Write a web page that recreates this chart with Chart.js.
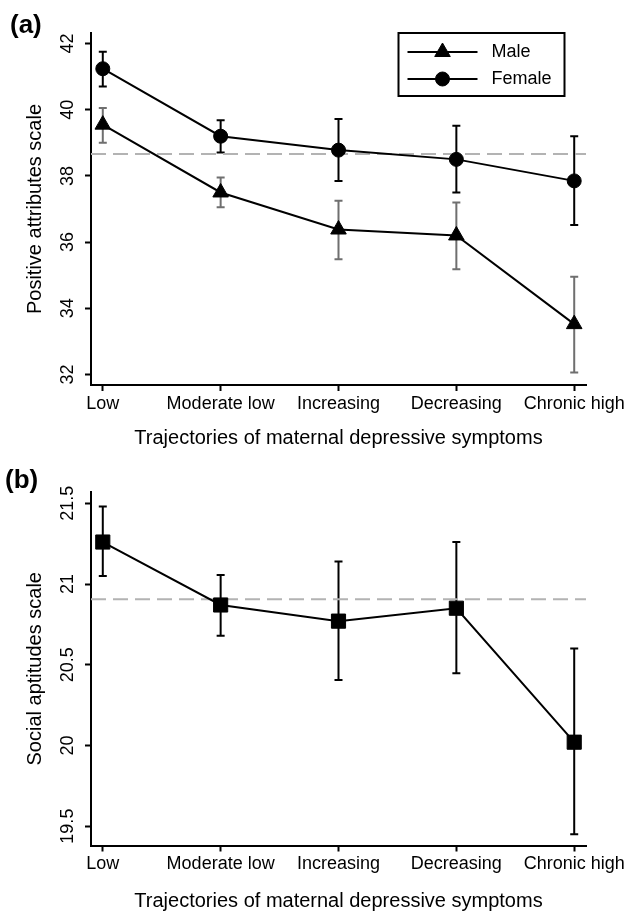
<!DOCTYPE html>
<html>
<head>
<meta charset="utf-8">
<script src="https://cdn.jsdelivr.net/npm/chart.js@4/dist/chart.umd.min.js"></script>
<style>
    body { margin: 0; background: #fff; }
    canvas { display: block; }
</style>
</head>
<body>
<canvas id="chartA" width="629" height="456"></canvas>
<canvas id="chartB" width="629" height="456"></canvas>
<script>
// Categories on the x axis (both panels)
const categories = ['Low', 'Moderate low', 'Increasing', 'Decreasing', 'Chronic high'];

// Panel (a): positive attributes scale
const maleMean = [39.55, 37.5, 36.38, 36.2, 33.52];
const maleLower = [39.0, 37.05, 35.48, 35.18, 32.06];
const maleUpper = [40.05, 37.95, 37.25, 37.2, 34.95];
const femaleMean = [41.24, 39.2, 38.78, 38.5, 37.85];
const femaleLower = [40.7, 38.71, 37.85, 37.5, 36.52];
const femaleUpper = [41.75, 39.68, 39.72, 39.52, 39.2];
const positiveRef = 38.66;
const positiveTicks = [32, 34, 36, 38, 40, 42];

// Panel (b): social aptitudes scale
const socialMean = [21.26, 20.87, 20.77, 20.85, 20.02];
const socialLower = [21.05, 20.68, 20.405, 20.447, 19.45];
const socialUpper = [21.48, 21.056, 21.14, 21.26, 20.6];
const socialRef = 20.905;
const socialTicks = [19.5, 20, 20.5, 21, 21.5];

const FONT = '"Liberation Sans", Arial, Helvetica, sans-serif';
Chart.defaults.font.family = FONT;
Chart.defaults.color = '#000';

const toPoints = arr => arr.map((v, i) => ({ x: i, y: v }));

function drawMarker(ctx, style, x, y, r) {
    ctx.beginPath();
    if (style === 'triangle') {
        let rad = 0;
        ctx.moveTo(x + Math.sin(rad) * r, y - Math.cos(rad) * r);
        rad += 2 * Math.PI / 3;
        ctx.lineTo(x + Math.sin(rad) * r, y - Math.cos(rad) * r);
        rad += 2 * Math.PI / 3;
        ctx.lineTo(x + Math.sin(rad) * r, y - Math.cos(rad) * r);
        ctx.closePath();
    } else if (style === 'rect') {
        const s = Math.SQRT1_2 * r;
        ctx.rect(x - s, y - s, 2 * s, 2 * s);
    } else {
        ctx.arc(x, y, r, 0, Math.PI * 2);
    }
    ctx.fill();
    ctx.stroke();
}

// Error bars drawn under the lines and markers
const errorBars = {
    id: 'errorBars',
    beforeDatasetsDraw(chart, args, opts) {
        const { ctx, scales: { x, y } } = chart;
        (opts.bars || []).forEach(bar => {
            ctx.save();
            ctx.strokeStyle = bar.color;
            ctx.lineWidth = 2;
            bar.lower.forEach((lo, i) => {
                const px = x.getPixelForValue(i);
                const yl = y.getPixelForValue(lo);
                const yu = y.getPixelForValue(bar.upper[i]);
                ctx.beginPath();
                ctx.moveTo(px, yl); ctx.lineTo(px, yu);
                ctx.moveTo(px - 4, yl); ctx.lineTo(px + 4, yl);
                ctx.moveTo(px - 4, yu); ctx.lineTo(px + 4, yu);
                ctx.stroke();
            });
            ctx.restore();
        });
    }
};

// Boxed legend with line + marker samples
const lineLegend = {
    id: 'lineLegend',
    afterDraw(chart, args, opts) {
        if (!opts.box) return;
        const ctx = chart.ctx;
        const [bx, by, bw, bh] = opts.box;
        ctx.save();
        ctx.lineWidth = 2;
        ctx.strokeStyle = '#000';
        ctx.fillStyle = '#000';
        ctx.strokeRect(bx, by, bw, bh);
        const items = chart.data.datasets.filter(d => d.label);
        items.forEach((d, i) => {
            const cy = by + 19 + i * 27;
            ctx.lineWidth = 2;
            ctx.beginPath();
            ctx.moveTo(bx + 9, cy);
            ctx.lineTo(bx + 79, cy);
            ctx.stroke();
            ctx.lineWidth = 1;
            drawMarker(ctx, d.pointStyle, bx + 44, cy, d.pointRadius);
            ctx.font = '18px ' + FONT;
            ctx.textBaseline = 'middle';
            ctx.fillText(d.label, bx + 93, cy);
        });
        ctx.restore();
    }
};

// "(a)" / "(b)" panel tags
const panelTag = {
    id: 'panelTag',
    afterDraw(chart, args, opts) {
        if (!opts.text) return;
        const ctx = chart.ctx;
        ctx.save();
        ctx.font = 'bold 26px ' + FONT;
        ctx.fillStyle = '#000';
        ctx.textBaseline = 'alphabetic';
        ctx.fillText(opts.text, opts.x, opts.y);
        ctx.restore();
    }
};

function refDataset(value, order) {
    return {
        data: [{ x: -0.1, y: value }, { x: 4.1, y: value }],
        borderColor: '#b3b3b3',
        borderWidth: 2,
        borderDash: [15, 7],
        pointRadius: 0,
        order
    };
}

function seriesDataset(label, values, style, radius) {
    return {
        label,
        data: toPoints(values),
        borderColor: '#000',
        borderWidth: 2,
        pointStyle: style,
        pointRadius: radius,
        pointHoverRadius: radius,
        pointBackgroundColor: '#000',
        pointBorderColor: '#000',
        pointBorderWidth: 1,
        tension: 0,
        order: 1
    };
}

function makeChart(id, cfg) {
    return new Chart(document.getElementById(id), {
        type: 'line',
        data: { datasets: cfg.datasets },
        options: {
            responsive: false,
            animation: false,
            events: [],
            layout: { padding: { top: cfg.top, right: 43, bottom: 0, left: 0 } },
            plugins: {
                legend: { display: false },
                tooltip: { enabled: false },
                errorBars: { bars: cfg.bars },
                lineLegend: { box: cfg.legendBox },
                panelTag: cfg.tag
            },
            scales: {
                x: {
                    type: 'linear',
                    min: -0.1,
                    max: 4.1,
                    afterBuildTicks: s => { s.ticks = categories.map((c, i) => ({ value: i })); },
                    afterFit: s => { s.height = cfg.xHeight; },
                    grid: { drawOnChartArea: false, tickLength: 6, tickWidth: 2, tickColor: '#000' },
                    border: { color: '#000', width: 2 },
                    ticks: {
                        autoSkip: false,
                        maxRotation: 0,
                        padding: cfg.xTickPad,
                        font: { size: 18 },
                        callback: v => categories[v]
                    },
                    title: {
                        display: true,
                        text: 'Trajectories of maternal depressive symptoms',
                        font: { size: 20 },
                        padding: { top: 0, bottom: cfg.xTitlePad }
                    }
                },
                y: {
                    min: cfg.yMin,
                    max: cfg.yMax,
                    afterBuildTicks: s => { s.ticks = cfg.yTicks.map(v => ({ value: v })); },
                    afterFit: s => { s.width = 91; },
                    grid: { drawOnChartArea: false, tickLength: 6, tickWidth: 2, tickColor: '#000' },
                    border: { color: '#000', width: 2 },
                    ticks: {
                        autoSkip: false,
                        minRotation: 90,
                        maxRotation: 90,
                        crossAlign: 'center',
                        padding: cfg.yTickPad,
                        font: { size: 18 },
                        callback: v => String(v)
                    },
                    title: {
                        display: true,
                        text: cfg.yTitle,
                        font: { size: 20 },
                        padding: { top: 23, bottom: 0 }
                    }
                }
            }
        },
        plugins: [errorBars, lineLegend, panelTag]
    });
}

makeChart('chartA', {
    datasets: [
        seriesDataset('Male', maleMean, 'triangle', 9),
        seriesDataset('Female', femaleMean, 'circle', 7),
        refDataset(positiveRef, 2)
    ],
    bars: [
        { lower: maleLower, upper: maleUpper, color: '#6f6f6f' },
        { lower: femaleLower, upper: femaleUpper, color: '#000' }
    ],
    legendBox: [398.5, 33, 166, 63],
    tag: { text: '(a)', x: 10, y: 33 },
    top: 33,
    xHeight: 71,
    xTickPad: 2,
    xTitlePad: 6,
    yMin: 31.68,
    yMax: 42.32,
    yTicks: positiveTicks,
    yTickPad: 7,
    yTitle: 'Positive attributes scale'
});

makeChart('chartB', {
    datasets: [
        seriesDataset('', socialMean, 'rect', 10),
        refDataset(socialRef, 2)
    ],
    bars: [
        { lower: socialLower, upper: socialUpper, color: '#000' }
    ],
    legendBox: null,
    tag: { text: '(b)', x: 5, y: 32 },
    top: 36,
    xHeight: 66.5,
    xTickPad: 1.5,
    xTitlePad: -1,
    yMin: 19.38,
    yMax: 21.57,
    yTicks: socialTicks,
    yTickPad: -1,
    yTitle: 'Social aptitudes scale'
});
</script>
</body>
</html>
